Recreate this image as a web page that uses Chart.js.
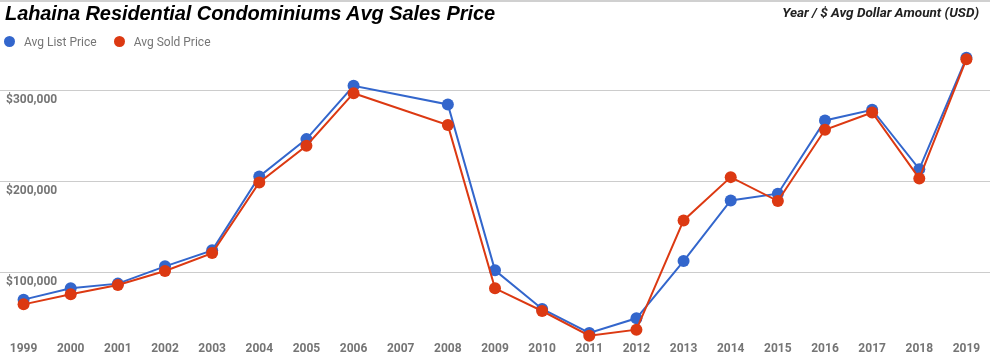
<!DOCTYPE html>
<html>
<head>
<meta charset="utf-8">
<script src="https://cdn.jsdelivr.net/npm/chart.js@4/dist/chart.umd.min.js"></script>
<style>
  body { margin: 0; background: #fff; }
  #wrap { position: relative; width: 990px; height: 363px; overflow: hidden; }
  #wrap canvas { position: absolute; left: 0; top: 0; }
  .topline { position: absolute; left: 0; top: 0; width: 990px; height: 2px; background: #d0d0d0; }
  .title { position: absolute; left: 5px; top: 2px; font: italic bold 20px "Liberation Sans", Arial, sans-serif; letter-spacing: -0.08px; color: #000; white-space: nowrap; }
  .sub { position: absolute; right: 11px; top: 4px; font: italic bold 13.5px Roboto, sans-serif; color: #222; white-space: nowrap; }
  #legend { position: absolute; left: 4px; top: 35px; font: 12px Roboto, sans-serif; color: #757575; white-space: nowrap; }
  #legend span.item { display: inline-block; margin-right: 17px; }
  #legend span.dot { display: inline-block; width: 11px; height: 11px; border-radius: 50%; vertical-align: -1px; margin-right: 9px; }
</style>
</head>
<body>
<div id="wrap">
  <canvas id="mycanvas" width="990" height="363"></canvas>
  <div class="topline"></div>
  <div class="title">Lahaina Residential Condominiums Avg Sales Price</div>
  <div class="sub">Year / $ Avg Dollar Amount (USD)</div>
  <div id="legend"></div>
</div>
<script>
var years = ['1999','2000','2001','2002','2003','2004','2005','2006','2007','2008','2009',
             '2010','2011','2012','2013','2014','2015','2016','2017','2018','2019'];
var listPrice = [70000, 82400, 87600, 106600, 124200, 205500, 246500, 305200, null, 284600, 102200,
                 59700, 33300, 49500, 112400, 179100, 186500, 267000, 278800, 213500, 335900];
var soldPrice = [64800, 75800, 86000, 101500, 121200, 198900, 239200, 297000, null, 261900, 82400,
                 57500, 30400, 37000, 157100, 204700, 178400, 256800, 275800, 203300, 334400];
var yTicks = [100000, 200000, 300000];

var chartdata = {
  labels: years,
  datasets: [
    {
      label: 'Avg List Price',
      data: listPrice,
      borderColor: '#3366cc',
      backgroundColor: '#3366cc',
      pointBackgroundColor: '#3366cc',
      order: 2
    },
    {
      label: 'Avg Sold Price',
      data: soldPrice,
      borderColor: '#dc3912',
      backgroundColor: '#dc3912',
      pointBackgroundColor: '#dc3912',
      order: 1
    }
  ]
};

chartdata.datasets.forEach(function(ds) {
  ds.borderWidth = 2;
  ds.pointRadius = 6;
  ds.pointHoverRadius = 6;
  ds.pointBorderWidth = 0;
  ds.spanGaps = true;
  ds.tension = 0;
  ds.clip = false;
});

// legend as html
var legendHtml = '';
chartdata.datasets.forEach(function(ds) {
  legendHtml += '<span class="item"><span class="dot" style="background:' + ds.borderColor + '"></span>' + ds.label + '</span>';
});
document.getElementById('legend').innerHTML = legendHtml;

var ctx = document.getElementById('mycanvas');
var lineGraph = new Chart(ctx, {
  type: 'line',
  data: chartdata,
  options: {
    responsive: false,
    animation: false,
    layout: { autoPadding: false, padding: { top: 45, bottom: 0, left: 0, right: 0 } },
    plugins: { legend: { display: false }, tooltip: { enabled: false } },
    scales: {
      x: {
        offset: true,
        afterFit: function(scale) {
          scale.height = 27;
          scale.paddingLeft = 0;
          scale.paddingRight = 0;
        },
        grid: { display: false, drawTicks: false },
        border: { display: false },
        ticks: {
          color: '#757575',
          font: { family: 'Roboto', size: 12, weight: 'bold' },
          padding: 6,
          maxRotation: 0,
          autoSkip: false
        }
      },
      y: {
        min: 30000,
        max: 350000,
        afterBuildTicks: function(scale) {
          scale.ticks = yTicks.map(function(v) { return { value: v }; });
        },
        afterFit: function(scale) {
          scale.width = 0;
        },
        grid: { color: '#cccccc', lineWidth: 1, drawTicks: false },
        border: { display: false },
        ticks: {
          mirror: true,
          padding: 6,
          labelOffset: 10,
          color: '#757575',
          font: { family: 'Roboto', size: 12, weight: 'bold' },
          callback: function(v) { return '$' + v.toLocaleString('en-US'); }
        }
      }
    }
  }
});
</script>
</body>
</html>
